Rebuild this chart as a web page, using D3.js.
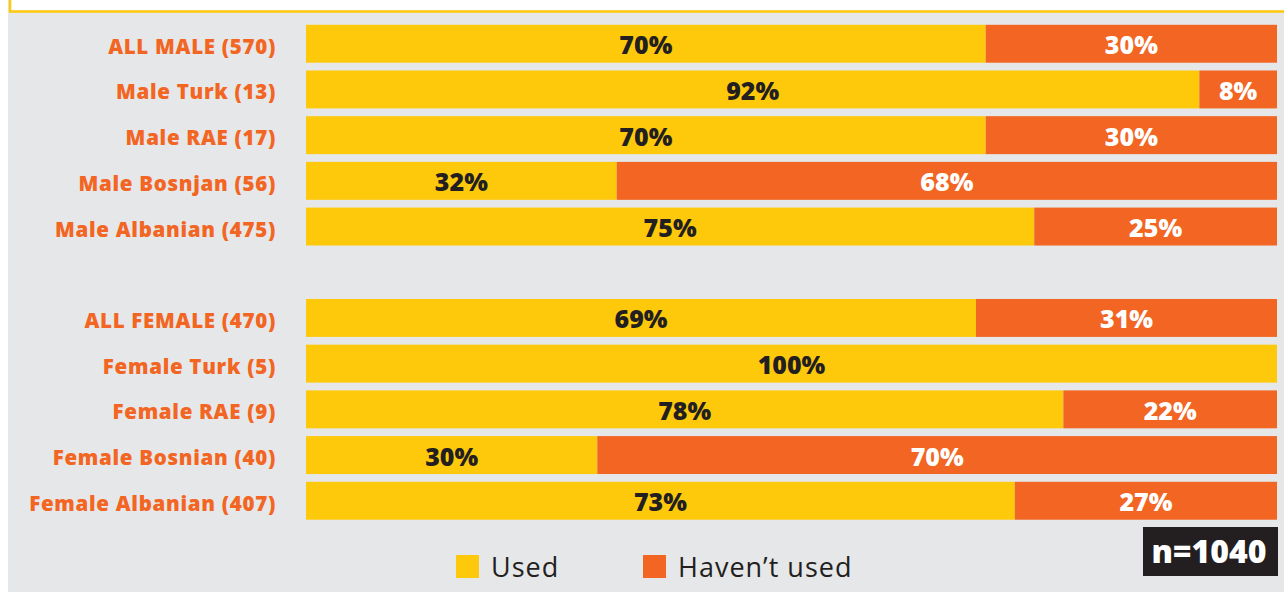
<!DOCTYPE html>
<html>
<head>
<meta charset="utf-8">
<script src="https://cdn.jsdelivr.net/npm/d3@7"></script>
<style>
  body { margin: 0; background: #fff; }
  svg { display: block; }
  .cat { font-family: 'Open Sans', sans-serif; font-weight: 800; fill: #f26522; letter-spacing: 0.7px; }
  .val { font-family: 'Open Sans', sans-serif; font-weight: 800; }
  .legend { font-family: 'Open Sans', sans-serif; fill: #231f20; letter-spacing: 1px; }
</style>
</head>
<body>
<svg id="chart"></svg>
<script>
// data
const categories = [
  'ALL MALE (570)', 'Male Turk (13)', 'Male RAE (17)', 'Male Bosnjan (56)', 'Male Albanian (475)',
  '',
  'ALL FEMALE (470)', 'Female Turk (5)', 'Female RAE (9)', 'Female Bosnian (40)', 'Female Albanian (407)'
];
const used = [70, 92, 70, 32, 75, null, 69, 100, 78, 30, 73];
const notUsed = [30, 8, 30, 68, 25, null, 31, 0, 22, 70, 27];
const seriesNames = ['Used', 'Haven\u2019t used'];
const sampleLabel = 'n=1040';

const fullWidth = 1284;
const fullHeight = 592;
const yellow = '#fec90b';
const orange = '#f26522';
const dark = '#231f20';

const svg = d3.select('#chart')
    .attr('width', fullWidth)
    .attr('height', fullHeight);

// background panel
svg.append('rect')
    .attr('x', 8)
    .attr('y', 0)
    .attr('width', fullWidth - 8)
    .attr('height', fullHeight)
    .attr('fill', '#e6e7e8');

// white box with yellow border at top
svg.append('rect')
    .attr('x', 10)
    .attr('y', -20)
    .attr('width', fullWidth + 20)
    .attr('height', 31.5)
    .attr('fill', '#fff')
    .attr('stroke', yellow)
    .attr('stroke-width', 2.5);

const x = d3.scaleLinear()
    .domain([0, 100])
    .range([306, 1277]);

const y = d3.scaleBand()
    .domain(d3.range(categories.length))
    .range([22.5, 522])
    .paddingInner(0.17)
    .paddingOuter(0.05);

const rows = categories.map((c, i) => ({ c, i, used: used[i], notUsed: notUsed[i] }))
  .filter(d => d.used !== null);

const mid = d => y(d.i) + y.bandwidth() / 2;

const g = svg.append('g');

// bars
g.selectAll('rect.used')
  .data(rows)
  .join('rect')
    .attr('class', 'used')
    .attr('x', x(0))
    .attr('y', d => y(d.i))
    .attr('width', d => x(d.used) - x(0))
    .attr('height', y.bandwidth())
    .attr('fill', yellow);

g.selectAll('rect.not')
  .data(rows.filter(d => d.notUsed > 0))
  .join('rect')
    .attr('class', 'not')
    .attr('x', d => x(d.used))
    .attr('y', d => y(d.i))
    .attr('width', d => x(d.used + d.notUsed) - x(d.used))
    .attr('height', y.bandwidth())
    .attr('fill', orange);

// value labels
g.selectAll('text.vu')
  .data(rows)
  .join('text')
    .attr('class', 'val')
    .attr('x', d => x(d.used / 2))
    .attr('y', d => mid(d) + 10.5)
    .attr('text-anchor', 'middle')
    .attr('font-size', 25)
    .attr('fill', dark)
    .text(d => `${d.used}%`);

g.selectAll('text.vn')
  .data(rows.filter(d => d.notUsed > 0))
  .join('text')
    .attr('class', 'val')
    .attr('x', d => x(d.used + d.notUsed / 2))
    .attr('y', d => mid(d) + 10.5)
    .attr('text-anchor', 'middle')
    .attr('font-size', 25)
    .attr('fill', '#fff')
    .text(d => `${d.notUsed}%`);

// category labels
g.selectAll('text.cat')
  .data(rows)
  .join('text')
    .attr('class', 'cat')
    .attr('x', 276)
    .attr('y', d => mid(d) + 10)
    .attr('text-anchor', 'end')
    .attr('font-size', 20.5)
    .text(d => d.c);

// legend
const legendX = [456, 643];
const legend = svg.append('g');
seriesNames.forEach((name, i) => {
  legend.append('rect')
      .attr('x', legendX[i])
      .attr('y', 555)
      .attr('width', 23)
      .attr('height', 23)
      .attr('fill', i === 0 ? yellow : orange);
  legend.append('text')
      .attr('class', 'legend')
      .attr('x', legendX[i] + 35)
      .attr('y', 576.5)
      .attr('font-size', 27)
      .text(name);
});

// sample size badge
svg.append('rect')
    .attr('x', 1143)
    .attr('y', 527)
    .attr('width', 135)
    .attr('height', 49)
    .attr('fill', dark);

svg.append('text')
    .attr('class', 'val')
    .attr('x', 1209)
    .attr('y', 563)
    .attr('text-anchor', 'middle')
    .attr('font-size', 32)
    .attr('fill', '#fff')
    .text(sampleLabel);
</script>
</body>
</html>
